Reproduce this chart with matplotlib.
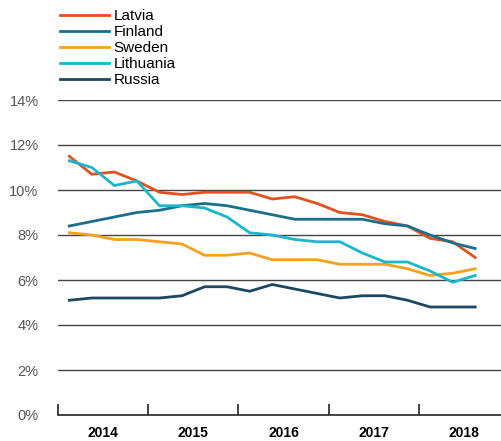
import numpy as np
import matplotlib.pyplot as plt

plt.rcParams['font.family'] = ['Liberation Sans', 'DejaVu Sans']

# quarterly unemployment rate, 2014 Q1 - 2018 Q3
years = [2014, 2015, 2016, 2017, 2018]
latvia = [11.5, 10.7, 10.8, 10.4, 9.9, 9.8, 9.9, 9.9, 9.9, 9.6,
          9.7, 9.4, 9.0, 8.9, 8.6, 8.4, 7.85, 7.7, 7.0]
finland = [8.4, 8.6, 8.8, 9.0, 9.1, 9.3, 9.4, 9.3, 9.1, 8.9,
           8.7, 8.7, 8.7, 8.7, 8.5, 8.4, 8.0, 7.65, 7.4]
sweden = [8.1, 8.0, 7.8, 7.8, 7.7, 7.6, 7.1, 7.1, 7.2, 6.9,
          6.9, 6.9, 6.7, 6.7, 6.7, 6.5, 6.2, 6.3, 6.5]
lithuania = [11.3, 11.0, 10.2, 10.4, 9.3, 9.3, 9.2, 8.8, 8.1, 8.0,
             7.8, 7.7, 7.7, 7.2, 6.8, 6.8, 6.4, 5.9, 6.2]
russia = [5.1, 5.2, 5.2, 5.2, 5.2, 5.3, 5.7, 5.7, 5.5, 5.8,
          5.6, 5.4, 5.2, 5.3, 5.3, 5.1, 4.8, 4.8, 4.8]

series = [
    ('Latvia', latvia, '#e0521f'),
    ('Finland', finland, '#1b6f8a'),
    ('Sweden', sweden, '#f4a11f'),
    ('Lithuania', lithuania, '#1ab6cf'),
    ('Russia', russia, '#1c4863'),
]

x = years[0] + (np.arange(len(latvia)) + 0.5) / 4

fig = plt.figure(figsize=(5.02, 4.41), dpi=100)
ax = fig.add_axes([58 / 502, 1 - 415 / 441, 444 / 502, 315 / 441])

for name, vals, col in series:
    ax.plot(x, vals, color=col, lw=2.0, label=name, solid_joinstyle='miter')

ax.set_ylim(0, 14)
ax.set_xlim(2014, 2014 + 443 / 90)
ax.set_yticks(np.arange(0, 15, 2))
ax.set_yticklabels([f'{v}%' for v in range(0, 15, 2)], color='#555555', fontsize=10.5)
for v in range(2, 15, 2):
    ax.axhline(v, color='#444444', lw=1.0, zorder=0)

ax.set_xticks(years)
ax.set_xticklabels([])
ax.set_xticks([y + 0.5 for y in years], minor=True)
ax.set_xticklabels([str(y) for y in years], minor=True, fontweight='bold', fontsize=10)
ax.tick_params(axis='x', which='major', direction='in', length=8, width=1.2, color='#222222')
ax.tick_params(axis='x', which='minor', length=0, pad=8)
ax.tick_params(axis='y', length=0, pad=14)

for s in ['top', 'right', 'left']:
    ax.spines[s].set_visible(False)
ax.spines['bottom'].set_color('#222222')
ax.spines['bottom'].set_linewidth(1.2)

fig.legend(loc='upper left', bbox_to_anchor=(60 / 502, 1 - 9 / 441), frameon=False,
           fontsize=11, handlelength=3.2, handletextpad=0.3, labelspacing=0.13,
           borderaxespad=0, borderpad=0)

fig.savefig('out.png', dpi=100)
